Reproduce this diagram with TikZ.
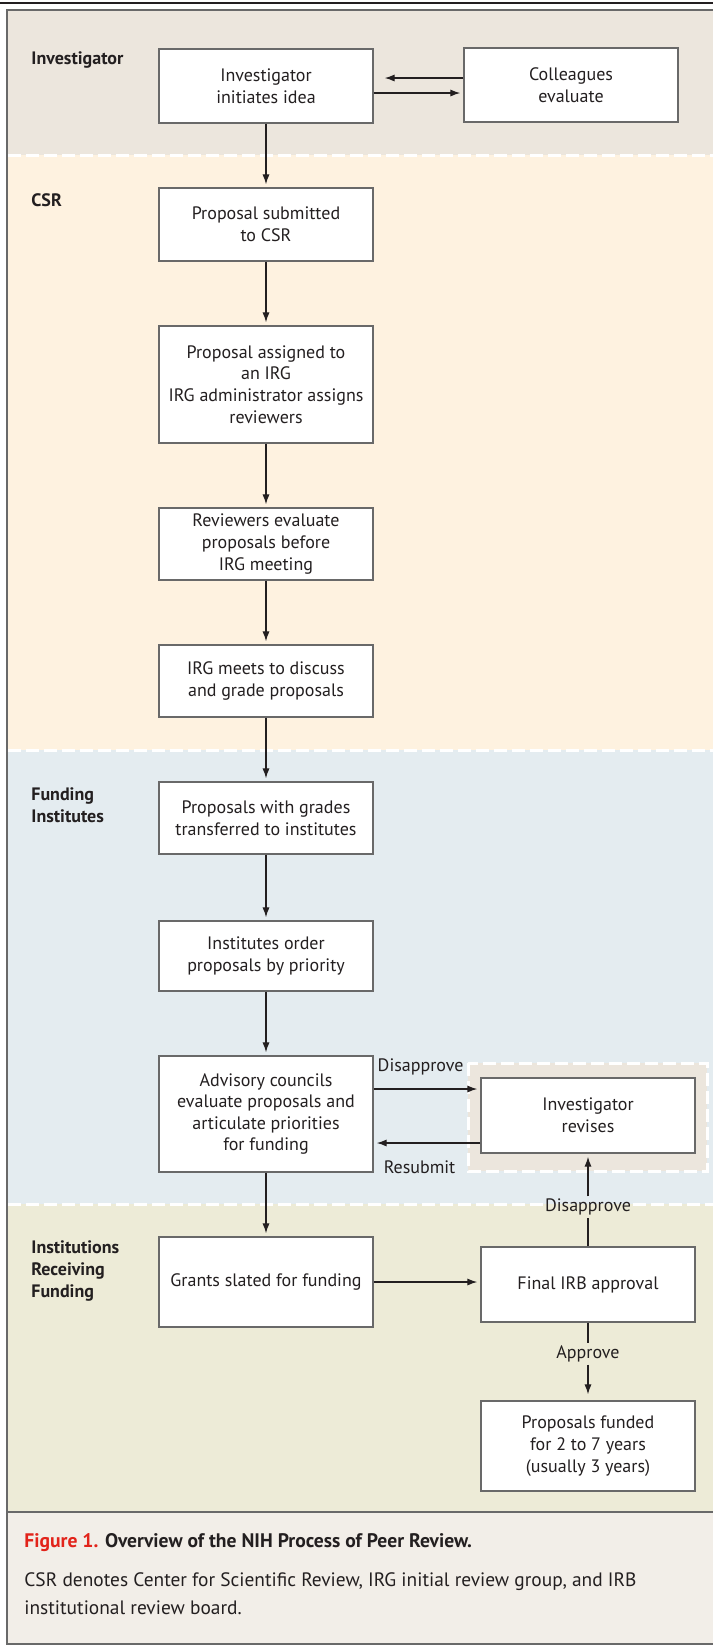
\documentclass[tikz,border=0pt]{standalone}
\usepackage{fontspec}
\setmainfont{PT Sans}
\usepackage{xcolor}
\usetikzlibrary{arrows.meta}

\definecolor{invband}{RGB}{236,230,221}
\definecolor{csrband}{RGB}{254,242,224}
\definecolor{fundband}{RGB}{228,236,240}
\definecolor{instband}{RGB}{237,235,215}
\definecolor{capband}{RGB}{242,238,232}
\definecolor{framegray}{RGB}{105,105,105}
\definecolor{inktext}{RGB}{35,31,32}
\definecolor{figred}{RGB}{226,35,26}

\tikzset{
  stagebox/.style={draw=framegray, fill=white, line width=0.7pt, minimum width=107pt,
    inner sep=0pt, align=center, font=\fontsize{9}{10.8}\selectfont, text=inktext},
  lanelabel/.style={anchor=west, inner sep=0pt, align=left,
    font=\fontsize{9}{11.2}\selectfont\bfseries, text=inktext},
  flow/.style={-{Latex[length=5pt,width=3.6pt]}, line width=0.65pt, draw=inktext, shorten >=1.5pt},
  plainline/.style={line width=0.65pt, draw=inktext},
  edgetext/.style={font=\fontsize{9}{10.8}\selectfont, text=inktext, inner sep=1pt},
  lanesep/.style={white, line width=1.5pt, dash pattern=on 6.5pt off 2.5pt},
}

\begin{document}
\begin{tikzpicture}[x=0.5pt,y=-0.5pt]
      % \draw[help lines, gray!50, very thin] (0,0) grid (713,1646);
      \useasboundingbox (0,0) rectangle (713,1646);

      \fill[invband] (7,10) rectangle (713,155);
      \fill[csrband] (7,155) rectangle (713,750);
      \fill[fundband] (7,750) rectangle (713,1204);
      \fill[instband] (7,1204) rectangle (713,1512);
      \fill[capband] (7,1512) rectangle (713,1644);
      \draw[lanesep, fill=invband] (468,1063) rectangle (707,1171);
      \draw[lanesep] (8,155) -- (713,155);
      \draw[lanesep] (8,750) -- (713,750);

      \draw[inktext, line width=0.8pt] (0,3) -- (713,3);
      \draw[framegray, line width=1pt] (713,10) -- (7,10) -- (7,1644) -- (713,1644);
      \draw[framegray, line width=1.4pt] (7,1512) -- (713,1512);

      \node[lanelabel] (laneinv) at (31,60) {Investigator};
      \node[lanelabel] (lanecsr) at (31,200) {CSR};
      \node[lanelabel] (lanefund) at (31,805) {Funding\\Institutes};
      \node[lanelabel] (laneinst) at (31,1271) {Institutions\\Receiving\\Funding};

      \node[stagebox, minimum height=37pt] (idea) at (266,86) {Investigator\\initiates idea};
      \node[stagebox, minimum height=37pt] (peers) at (571,85) {Colleagues\\evaluate};
      \node[stagebox, minimum height=36.5pt] (submit) at (266,224.5) {Proposal submitted\\to CSR};
      \node[stagebox, minimum height=58.5pt] (assign) at (266,384.5) {Proposal assigned to\\an IRG\\IRG administrator assigns\\reviewers};
      \node[stagebox, minimum height=36pt] (prereview) at (266,544) {Reviewers evaluate\\proposals before\\IRG meeting};
      \node[stagebox, minimum height=36pt] (meeting) at (266,681) {IRG meets to discuss\\and grade proposals};
      \node[stagebox, minimum height=36pt] (transfer) at (266,818) {Proposals with grades\\transferred to institutes};
      \node[stagebox, minimum height=35pt] (priority) at (266,956) {Institutes order\\proposals by priority};
      \node[stagebox, minimum height=58pt] (council) at (266,1114) {Advisory councils\\evaluate proposals and\\articulate priorities\\for funding};
      \node[stagebox, minimum height=45pt] (slated) at (266,1282) {Grants slated for funding};
      \node[stagebox, minimum height=37.5pt] (revise) at (588,1115.5) {Investigator\\revises};
      \node[stagebox, minimum height=37.5pt] (irb) at (588,1284.5) {Final IRB approval};
      \node[stagebox, minimum height=45pt] (funded) at (588,1446) {Proposals funded\\for 2 to 7 years\\(usually 3 years)};

      \node[edgetext] (irbno) at (588,1207) {Disapprove};
      \node[edgetext] (irbyes) at (588,1354) {Approve};
      \draw[lanesep] (8,1204) -- (irbno.west |- 0,1204);
      \draw[lanesep] (irbno.east |- 0,1204) -- (713,1204);

      \draw[flow, shorten >=5.5pt] ([yshift=3.5pt]peers.west) -- ([yshift=3.5pt]peers.west -| idea.east);
      \draw[flow] ([yshift=-3.5pt]idea.east) -- ([yshift=-3.5pt]idea.east -| peers.west);
      \draw[flow] (idea) -- (submit);
      \draw[flow] (submit) -- (assign);
      \draw[flow] (assign) -- (prereview);
      \draw[flow] (prereview) -- (meeting);
      \draw[flow] (meeting) -- (transfer);
      \draw[flow] (transfer) -- (priority);
      \draw[flow] (priority) -- (council);
      \draw[flow] (council) -- (slated);
      \draw[flow] ([yshift=12.5pt]council.east) -- ([yshift=12.5pt]council.east -| revise.west)
        node[edgetext, pos=0.44, above=5.8pt] (councilno) {Disapprove};
      \draw[flow] ([yshift=-13.75pt]revise.west) -- ([yshift=-13.75pt]revise.west -| council.east)
        node[edgetext, pos=0.57, below=7.5pt] (resubmit) {Resubmit};
      \draw[flow] (slated.east) -- (slated.east -| irb.west);
      \draw[plainline] (irb.north) -- (irbno.south);
      \draw[flow] (irbno.north) -- (revise.south);
      \draw[plainline] (irb.south) -- (irbyes.north);
      \draw[flow, shorten >=3pt] (irbyes.south) -- (funded.north);

      \node[anchor=west, inner sep=0pt, font=\fontsize{9.8}{14}\selectfont\bfseries, text=inktext] (figtitle) at (24,1543)
        {\textcolor{figred}{Figure 1.} Overview of the NIH Process of Peer Review.};
      \node[anchor=west, inner sep=0pt, align=left, font=\fontsize{9.7}{14}\selectfont, text=inktext] (figtext) at (24,1594)
        {CSR denotes Center for Scientific Review, IRG initial review group, and IRB\\institutional review board.};
\end{tikzpicture}
\end{document}
